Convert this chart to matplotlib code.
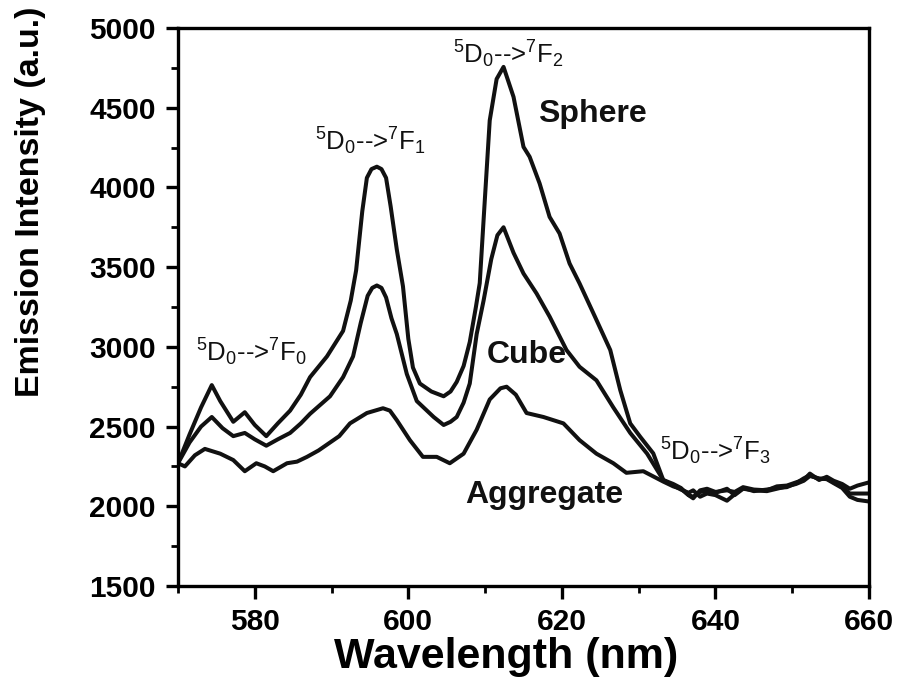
# -*- coding: utf-8 -*-
"""
Emission spectra of the Eu doped particles (sphere, cube, aggregate).
"""
import matplotlib
matplotlib.use('Agg')
import matplotlib.pyplot as plt
from matplotlib.ticker import MultipleLocator

# traced spectra (wavelength in nm, intensity in a.u.)
sphere_wl = [570.0, 571.5, 573.0, 574.4, 575.5, 577.2, 578.7, 580.0, 581.5, 583.0,
             584.6, 586.0, 587.2, 589.4, 591.5, 592.5, 593.2, 594.0, 594.6, 595.2,
             595.9, 596.5, 597.1, 597.7, 598.5, 599.3, 600.0, 600.6, 601.5, 603.0,
             604.6, 605.5, 606.3, 607.2, 608.0, 608.8, 609.3, 609.8, 610.6, 611.5,
             612.4, 613.7, 615.0, 615.8, 617.1, 618.4, 619.7, 621.0, 622.3, 624.3,
             626.3, 627.6, 628.9, 630.2, 631.9, 633.2, 634.5, 635.5, 636.5, 637.1,
             638.0, 638.9, 640.0, 641.5, 642.5, 643.6, 645.0, 646.7, 648.0, 649.3,
             650.5, 651.5, 652.3, 653.5, 654.5, 655.4, 656.5, 657.5, 658.5, 660.0]
sphere_int = [2270, 2450, 2620, 2760, 2660, 2530, 2590, 2510, 2440, 2520,
              2600, 2700, 2810, 2940, 3100, 3290, 3480, 3850, 4060, 4115,
              4130, 4115, 4060, 3880, 3610, 3380, 3050, 2870, 2770, 2720,
              2690, 2720, 2780, 2880, 3030, 3250, 3400, 3795, 4420, 4680,
              4756, 4568, 4254, 4192, 4025, 3815, 3711, 3523, 3398, 3190,
              2980, 2729, 2520, 2436, 2332, 2165, 2140, 2115, 2070, 2050,
              2100, 2110, 2090, 2100, 2090, 2120, 2105, 2100, 2125, 2130,
              2150, 2165, 2205, 2165, 2185, 2160, 2140, 2110, 2130, 2150]

cube_wl = [570.0, 571.5, 573.0, 574.4, 575.8, 577.2, 578.7, 580.0, 581.5, 583.0,
           584.6, 586.0, 587.2, 589.8, 591.5, 592.8, 593.8, 594.7, 595.3, 595.9,
           596.5, 597.1, 597.8, 598.5, 599.8, 601.1, 603.3, 604.6, 605.5, 606.3,
           607.2, 608.0, 608.9, 609.8, 610.8, 611.6, 612.4, 613.7, 615.0, 616.7,
           618.4, 620.6, 622.3, 624.5, 626.7, 628.9, 631.1, 633.2, 634.5, 635.5,
           636.5, 637.1, 638.0, 638.9, 640.0, 641.5, 642.5, 643.6, 645.0, 646.7,
           648.0, 649.3, 650.5, 651.5, 652.3, 653.5, 654.5, 655.4, 656.5, 657.5,
           658.5, 660.0]
cube_int = [2270, 2400, 2500, 2560, 2490, 2440, 2460, 2420, 2380, 2420,
            2460, 2520, 2580, 2690, 2810, 2940, 3150, 3320, 3370, 3385,
            3370, 3310, 3180, 3080, 2830, 2660, 2560, 2510, 2530, 2560,
            2650, 2770, 3080, 3290, 3550, 3700, 3750, 3590, 3460, 3335,
            3190, 2980, 2875, 2790, 2620, 2460, 2330, 2165, 2130, 2105,
            2085, 2100, 2060, 2080, 2070, 2035, 2075, 2115, 2095, 2105,
            2115, 2120, 2145, 2175, 2195, 2170, 2175, 2150, 2120, 2080,
            2080, 2080]

aggr_wl = [570.0, 570.9, 572.2, 573.5, 575.5, 577.2, 578.7, 580.2, 581.3, 582.4,
           584.2, 585.5, 586.8, 588.3, 589.8, 591.0, 592.4, 594.6, 596.7, 597.6,
           598.5, 600.2, 601.9, 603.7, 605.4, 607.2, 608.9, 610.6, 612.0, 612.8,
           614.0, 615.4, 617.6, 620.2, 622.3, 624.5, 626.7, 628.4, 630.6, 633.2,
           634.5, 635.5, 636.5, 637.1, 638.0, 638.9, 640.0, 641.5, 642.5, 643.6,
           645.0, 646.7, 648.0, 649.3, 650.5, 651.5, 652.3, 653.5, 654.5, 655.4,
           656.5, 657.5, 658.5, 660.0]
aggr_int = [2270, 2250, 2320, 2360, 2330, 2290, 2220, 2270, 2250, 2220,
            2270, 2280, 2310, 2350, 2400, 2440, 2520, 2585, 2615, 2600,
            2540, 2415, 2310, 2310, 2270, 2330, 2480, 2670, 2740, 2750,
            2700, 2585, 2560, 2520, 2415, 2330, 2270, 2210, 2220, 2155,
            2125, 2110, 2070, 2060, 2090, 2095, 2085, 2110, 2070, 2110,
            2100, 2095, 2110, 2125, 2140, 2160, 2190, 2175, 2170, 2145,
            2115, 2060, 2040, 2030]

x_ticks = [580, 600, 620, 640, 660]
y_ticks = [1500, 2000, 2500, 3000, 3500, 4000, 4500, 5000]

plt.rcParams['font.family'] = ['Liberation Sans', 'DejaVu Sans']
plt.rcParams['mathtext.fontset'] = 'custom'
plt.rcParams['mathtext.rm'] = 'Liberation Sans'
plt.rcParams['mathtext.it'] = 'Liberation Sans'
plt.rcParams['mathtext.bf'] = 'Liberation Sans:bold'

fig = plt.figure(figsize=(9.01, 6.91), dpi=100)
ax = fig.add_axes([178 / 901, 1 - 586 / 691, 691 / 901, 558 / 691])

lc = '#111111'
ax.plot(sphere_wl, sphere_int, color=lc, lw=2.9)
ax.plot(cube_wl, cube_int, color=lc, lw=2.9)
ax.plot(aggr_wl, aggr_int, color=lc, lw=2.9)

ax.set_xlim(570, 660)
ax.set_ylim(1500, 5000)
ax.set_xticks(x_ticks)
ax.set_yticks(y_ticks)
ax.xaxis.set_minor_locator(MultipleLocator(10))
ax.yaxis.set_minor_locator(MultipleLocator(250))

for s in ax.spines.values():
    s.set_linewidth(2.4)
ax.tick_params(which='major', direction='out', length=9, width=2.4, pad=7,
               labelsize=21.5, top=False, right=False)
ax.tick_params(which='minor', direction='out', length=5, width=2.0,
               top=False, right=False)
for lab in ax.get_xticklabels() + ax.get_yticklabels():
    lab.set_fontweight('bold')

# axis titles
fig.text(31 / 901, 1 - 202 / 691, 'Emission Intensity (a.u.)', rotation=90,
         ha='center', va='center', fontsize=24.5, fontweight='bold')
fig.text(506 / 901, 1 - 657 / 691, 'Wavelength (nm)', ha='center', va='center',
         fontsize=31, fontweight='bold')

# transition labels
ann = dict(fontsize=18.5, color=lc)
ax.text(572.4, 2906, r'$^{5}$D$_{0}$-->$^{7}$F$_{0}$', **ann)
ax.text(587.8, 4234, r'$^{5}$D$_{0}$-->$^{7}$F$_{1}$', **ann)
ax.text(605.8, 4779, r'$^{5}$D$_{0}$-->$^{7}$F$_{2}$', **ann)
ax.text(632.8, 2290, r'$^{5}$D$_{0}$-->$^{7}$F$_{3}$', **ann)

# sample labels
lab = dict(fontsize=23, fontweight='bold', color=lc)
ax.text(616.9, 4409, 'Sphere', **lab)
ax.text(610.2, 2898, 'Cube', **lab)
ax.text(607.4, 2020, 'Aggregate', **lab)

fig.savefig('out.png', dpi=100)
